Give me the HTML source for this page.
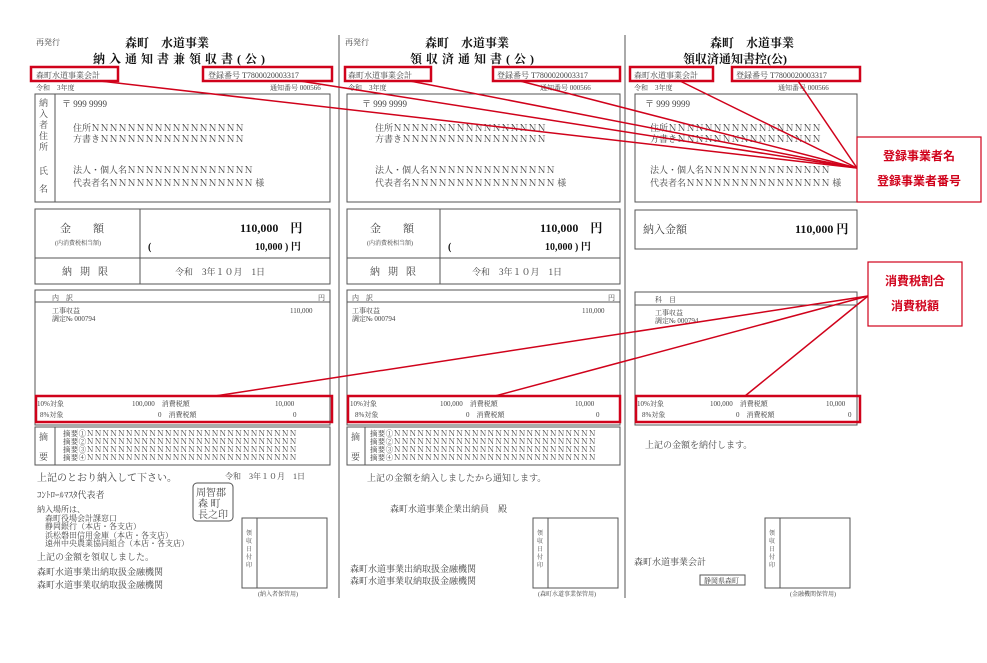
<!DOCTYPE html>
<html><head><meta charset="utf-8"><style>
html,body{margin:0;padding:0;background:#fff;}
svg text{font-family:"Liberation Serif","Noto Serif CJK SC","Noto Sans CJK JP",serif;fill:#444;}
.b{font-weight:bold;fill:#111;}
.r{font-family:"Liberation Sans","Noto Sans CJK JP",sans-serif;fill:#d0021b;font-weight:bold;}
</style></head><body>
<svg width="987" height="658" viewBox="0 0 987 658" xmlns="http://www.w3.org/2000/svg">
<rect width="987" height="658" fill="#fff"/>
<g stroke="#555" fill="none" stroke-width="1">
<line x1="339" y1="35" x2="339" y2="598"/>
<line x1="625" y1="35" x2="625" y2="598"/>
<!-- panel1 -->
<rect x="35" y="94" width="295" height="108"/><line x1="55" y1="94" x2="55" y2="202"/>
<rect x="35" y="209" width="295" height="75"/><line x1="35" y1="258" x2="330" y2="258"/><line x1="140" y1="209" x2="140" y2="284"/>
<rect x="35" y="290" width="295" height="135"/><line x1="35" y1="302" x2="330" y2="302"/>
<rect x="35" y="427" width="295" height="38"/><line x1="55" y1="427" x2="55" y2="465"/>
<rect x="242" y="518" width="85" height="70"/><line x1="257" y1="518" x2="257" y2="588"/>
<rect x="193" y="483" width="40" height="38" rx="4"/>
<!-- panel2 -->
<rect x="347" y="94" width="273" height="108"/>
<rect x="347" y="209" width="273" height="75"/><line x1="347" y1="258" x2="620" y2="258"/><line x1="440" y1="209" x2="440" y2="284"/>
<rect x="347" y="290" width="273" height="135"/><line x1="347" y1="302" x2="620" y2="302"/>
<rect x="347" y="427" width="273" height="38"/><line x1="365" y1="427" x2="365" y2="465"/>
<rect x="533" y="518" width="85" height="70"/><line x1="548" y1="518" x2="548" y2="588"/>
<!-- panel3 -->
<rect x="635" y="94" width="222" height="108"/>
<rect x="635" y="210" width="222" height="39"/>
<rect x="635" y="292" width="222" height="133"/><line x1="635" y1="305" x2="857" y2="305"/>
<rect x="765" y="518" width="85" height="70"/><line x1="780" y1="518" x2="780" y2="588"/>
<rect x="700" y="575" width="45" height="10"/>
</g>
<g font-size="8"><text x="36" y="45">再発行</text><text x="345" y="45">再発行</text></g>
<text x="125" y="47" font-size="12" class="b">森町　水道事業</text>
<text x="93" y="63" font-size="12" class="b" letter-spacing="4">納入通知書兼領収書(公)</text>
<text x="36" y="78" font-size="8">森町水道事業会計</text><text x="208" y="78" font-size="8">登録番号 T7800020003317</text>
<text x="36" y="90" font-size="7">令和　3年度</text><text x="270" y="90" font-size="7">通知番号 000566</text>
<g font-size="9">
<text x="39" y="106">納</text><text x="39" y="117">入</text><text x="39" y="128">者</text><text x="39" y="139">住</text><text x="39" y="150">所</text><text x="39" y="174">氏</text><text x="39" y="192">名</text>
<text x="62" y="107">〒 999 9999</text>
<text x="73" y="131">住所ＮＮＮＮＮＮＮＮＮＮＮＮＮＮＮＮＮ</text>
<text x="73" y="142">方書きＮＮＮＮＮＮＮＮＮＮＮＮＮＮＮＮ</text>
<text x="73" y="173">法人・個人名ＮＮＮＮＮＮＮＮＮＮＮＮＮＮ</text>
<text x="73" y="186">代表者名ＮＮＮＮＮＮＮＮＮＮＮＮＮＮＮＮ 様</text>
</g>
<text x="60" y="232" font-size="11" letter-spacing="22">金額</text>
<text x="55" y="245" font-size="6">(内消費税相当額)</text>
<text x="240" y="232" font-size="12" class="b">110,000　円</text>
<text x="148" y="250" font-size="10" class="b">(</text><text x="255" y="250" font-size="10" class="b">10,000 ) 円</text>
<text x="62" y="275" font-size="10" letter-spacing="8">納期限</text>
<text x="175" y="275" font-size="9">令和　3年１０月　1日</text>
<g font-size="7">
<text x="52" y="300">内　訳</text><text x="318" y="300">円</text>
<text x="52" y="313">工事収益</text><text x="52" y="321">調定№ 000794</text><text x="290" y="313">110,000</text>
<text x="37" y="406">10%対象</text><text x="132" y="406">100,000　消費税額</text><text x="275" y="406">10,000</text>
<text x="40" y="417">8%対象</text><text x="158" y="417">0　消費税額</text><text x="293" y="417">0</text>
</g>
<g font-size="9"><text x="39" y="440">摘</text><text x="39" y="460">要</text></g>
<g font-size="7.5" letter-spacing="0.3">
<text x="63" y="436">摘要①ＮＮＮＮＮＮＮＮＮＮＮＮＮＮＮＮＮＮＮＮＮＮＮＮＮＮＮ</text>
<text x="63" y="444">摘要②ＮＮＮＮＮＮＮＮＮＮＮＮＮＮＮＮＮＮＮＮＮＮＮＮＮＮＮ</text>
<text x="63" y="452">摘要③ＮＮＮＮＮＮＮＮＮＮＮＮＮＮＮＮＮＮＮＮＮＮＮＮＮＮＮ</text>
<text x="63" y="460">摘要④ＮＮＮＮＮＮＮＮＮＮＮＮＮＮＮＮＮＮＮＮＮＮＮＮＮＮＮ</text>
</g>
<text x="37" y="481" font-size="10">上記のとおり納入して下さい。</text><text x="225" y="479" font-size="8">令和　3年１０月　1日</text>
<text x="37" y="498" font-size="9">ｺﾝﾄﾛｰﾙﾏｽﾀ代表者</text>
<text x="196" y="496" font-size="10">周智郡</text><text x="198" y="507" font-size="10">森 町</text><text x="198" y="518" font-size="10">長之印</text>
<g font-size="8"><text x="37" y="512">納入場所は、</text><text x="45" y="521">森町役場会計課窓口</text><text x="45" y="529">静岡銀行（本店・各支店）</text><text x="45" y="538">浜松磐田信用金庫（本店・各支店）</text><text x="45" y="546">遠州中央農業協同組合（本店・各支店）</text></g>
<g font-size="9"><text x="37" y="560">上記の金額を領収しました。</text><text x="37" y="575">森町水道事業出納取扱金融機関</text><text x="37" y="588">森町水道事業収納取扱金融機関</text></g>
<g font-size="6"><text x="246" y="535">領</text><text x="246" y="543">収</text><text x="246" y="551">日</text><text x="246" y="559">付</text><text x="246" y="567">印</text>
<text x="537" y="535">領</text><text x="537" y="543">収</text><text x="537" y="551">日</text><text x="537" y="559">付</text><text x="537" y="567">印</text>
<text x="769" y="535">領</text><text x="769" y="543">収</text><text x="769" y="551">日</text><text x="769" y="559">付</text><text x="769" y="567">印</text>
<text x="258" y="596">(納入者保管用)</text><text x="538" y="596">(森町水道事業保管用)</text><text x="790" y="596">(金融機関保管用)</text></g>
<text x="425" y="47" font-size="12" class="b">森町　水道事業</text>
<text x="410" y="63" font-size="12" class="b" letter-spacing="4">領収済通知書(公)</text>
<text x="348" y="78" font-size="8">森町水道事業会計</text><text x="497" y="78" font-size="8">登録番号 T7800020003317</text>
<text x="348" y="90" font-size="7">令和　3年度</text><text x="540" y="90" font-size="7">通知番号 000566</text>
<g font-size="9">
<text x="362" y="107">〒 999 9999</text>
<text x="375" y="131">住所ＮＮＮＮＮＮＮＮＮＮＮＮＮＮＮＮＮ</text>
<text x="375" y="142">方書きＮＮＮＮＮＮＮＮＮＮＮＮＮＮＮＮ</text>
<text x="375" y="173">法人・個人名ＮＮＮＮＮＮＮＮＮＮＮＮＮＮ</text>
<text x="375" y="186">代表者名ＮＮＮＮＮＮＮＮＮＮＮＮＮＮＮＮ 様</text>
</g>
<text x="370" y="232" font-size="11" letter-spacing="22">金額</text>
<text x="367" y="245" font-size="6">(内消費税相当額)</text>
<text x="540" y="232" font-size="12" class="b">110,000　円</text>
<text x="448" y="250" font-size="10" class="b">(</text><text x="545" y="250" font-size="10" class="b">10,000 ) 円</text>
<text x="370" y="275" font-size="10" letter-spacing="8">納期限</text>
<text x="472" y="275" font-size="9">令和　3年１０月　1日</text>
<g font-size="7">
<text x="352" y="300">内　訳</text><text x="608" y="300">円</text>
<text x="352" y="313">工事収益</text><text x="352" y="321">調定№ 000794</text><text x="582" y="313">110,000</text>
<text x="350" y="406">10%対象</text><text x="440" y="406">100,000　消費税額</text><text x="575" y="406">10,000</text>
<text x="355" y="417">8%対象</text><text x="466" y="417">0　消費税額</text><text x="596" y="417">0</text>
</g>
<g font-size="9"><text x="351" y="440">摘</text><text x="351" y="460">要</text></g>
<g font-size="7.5" letter-spacing="0.3">
<text x="370" y="436">摘要①ＮＮＮＮＮＮＮＮＮＮＮＮＮＮＮＮＮＮＮＮＮＮＮＮＮＮ</text>
<text x="370" y="444">摘要②ＮＮＮＮＮＮＮＮＮＮＮＮＮＮＮＮＮＮＮＮＮＮＮＮＮＮ</text>
<text x="370" y="452">摘要③ＮＮＮＮＮＮＮＮＮＮＮＮＮＮＮＮＮＮＮＮＮＮＮＮＮＮ</text>
<text x="370" y="460">摘要④ＮＮＮＮＮＮＮＮＮＮＮＮＮＮＮＮＮＮＮＮＮＮＮＮＮＮ</text>
</g>
<text x="367" y="481" font-size="9">上記の金額を納入しましたから通知します。</text>
<text x="390" y="512" font-size="9">森町水道事業企業出納員　殿</text>
<g font-size="9"><text x="350" y="572">森町水道事業出納取扱金融機関</text><text x="350" y="584">森町水道事業収納取扱金融機関</text></g>
<text x="710" y="47" font-size="12" class="b">森町　水道事業</text>
<text x="683" y="63" font-size="12" class="b">領収済通知書控(公)</text>
<text x="634" y="78" font-size="8">森町水道事業会計</text><text x="736" y="78" font-size="8">登録番号 T7800020003317</text>
<text x="634" y="90" font-size="7">令和　3年度</text><text x="778" y="90" font-size="7">通知番号 000566</text>
<g font-size="9">
<text x="645" y="107">〒 999 9999</text>
<text x="650" y="131">住所ＮＮＮＮＮＮＮＮＮＮＮＮＮＮＮＮＮ</text>
<text x="650" y="142">方書きＮＮＮＮＮＮＮＮＮＮＮＮＮＮＮＮ</text>
<text x="650" y="173">法人・個人名ＮＮＮＮＮＮＮＮＮＮＮＮＮＮ</text>
<text x="650" y="186">代表者名ＮＮＮＮＮＮＮＮＮＮＮＮＮＮＮＮ 様</text>
</g>
<text x="643" y="233" font-size="11">納入金額</text>
<text x="795" y="233" font-size="12" class="b">110,000 円</text>
<g font-size="7">
<text x="655" y="302">科　目</text>
<text x="655" y="315">工事収益</text><text x="655" y="323">調定№ 000794</text>
<text x="637" y="406">10%対象</text><text x="710" y="406">100,000　消費税額</text><text x="826" y="406">10,000</text>
<text x="642" y="417">8%対象</text><text x="736" y="417">0　消費税額</text><text x="848" y="417">0</text>
</g>
<text x="645" y="448" font-size="9">上記の金額を納付します。</text>
<text x="634" y="565" font-size="9">森町水道事業会計</text>
<text x="704" y="583" font-size="7">静岡県森町</text>
<g stroke="#d0021b" stroke-width="2.5" fill="none">
<rect x="31" y="67" width="87" height="14"/><rect x="203" y="67" width="129" height="14"/>
<rect x="345" y="67" width="86" height="14"/><rect x="493" y="67" width="127" height="14"/>
<rect x="630" y="67" width="83" height="14"/><rect x="732" y="67" width="128" height="14"/>
<rect x="36" y="396" width="296" height="26"/><rect x="348" y="396" width="272" height="26"/><rect x="636" y="396" width="224" height="26"/>
</g>
<g stroke="#d0021b" stroke-width="1.5">
<line x1="100" y1="81" x2="857" y2="168"/><line x1="300" y1="81" x2="857" y2="168"/>
<line x1="410" y1="81" x2="857" y2="168"/><line x1="520" y1="81" x2="857" y2="168"/>
<line x1="680" y1="81" x2="857" y2="168"/><line x1="798" y1="81" x2="857" y2="168"/>
<line x1="215" y1="396" x2="868" y2="296"/><line x1="495" y1="396" x2="868" y2="296"/><line x1="745" y1="396" x2="868" y2="296"/>
</g>
<rect x="857" y="137" width="124" height="65" fill="#fff" stroke="#d0021b" stroke-width="1.2"/>
<text x="919" y="160" font-size="12" class="r" text-anchor="middle">登録事業者名</text>
<text x="919" y="185" font-size="12" class="r" text-anchor="middle">登録事業者番号</text>
<rect x="868" y="262" width="94" height="64" fill="#fff" stroke="#d0021b" stroke-width="1.2"/>
<text x="915" y="285" font-size="12" class="r" text-anchor="middle">消費税割合</text>
<text x="915" y="310" font-size="12" class="r" text-anchor="middle">消費税額</text>
</svg>
</body></html>
